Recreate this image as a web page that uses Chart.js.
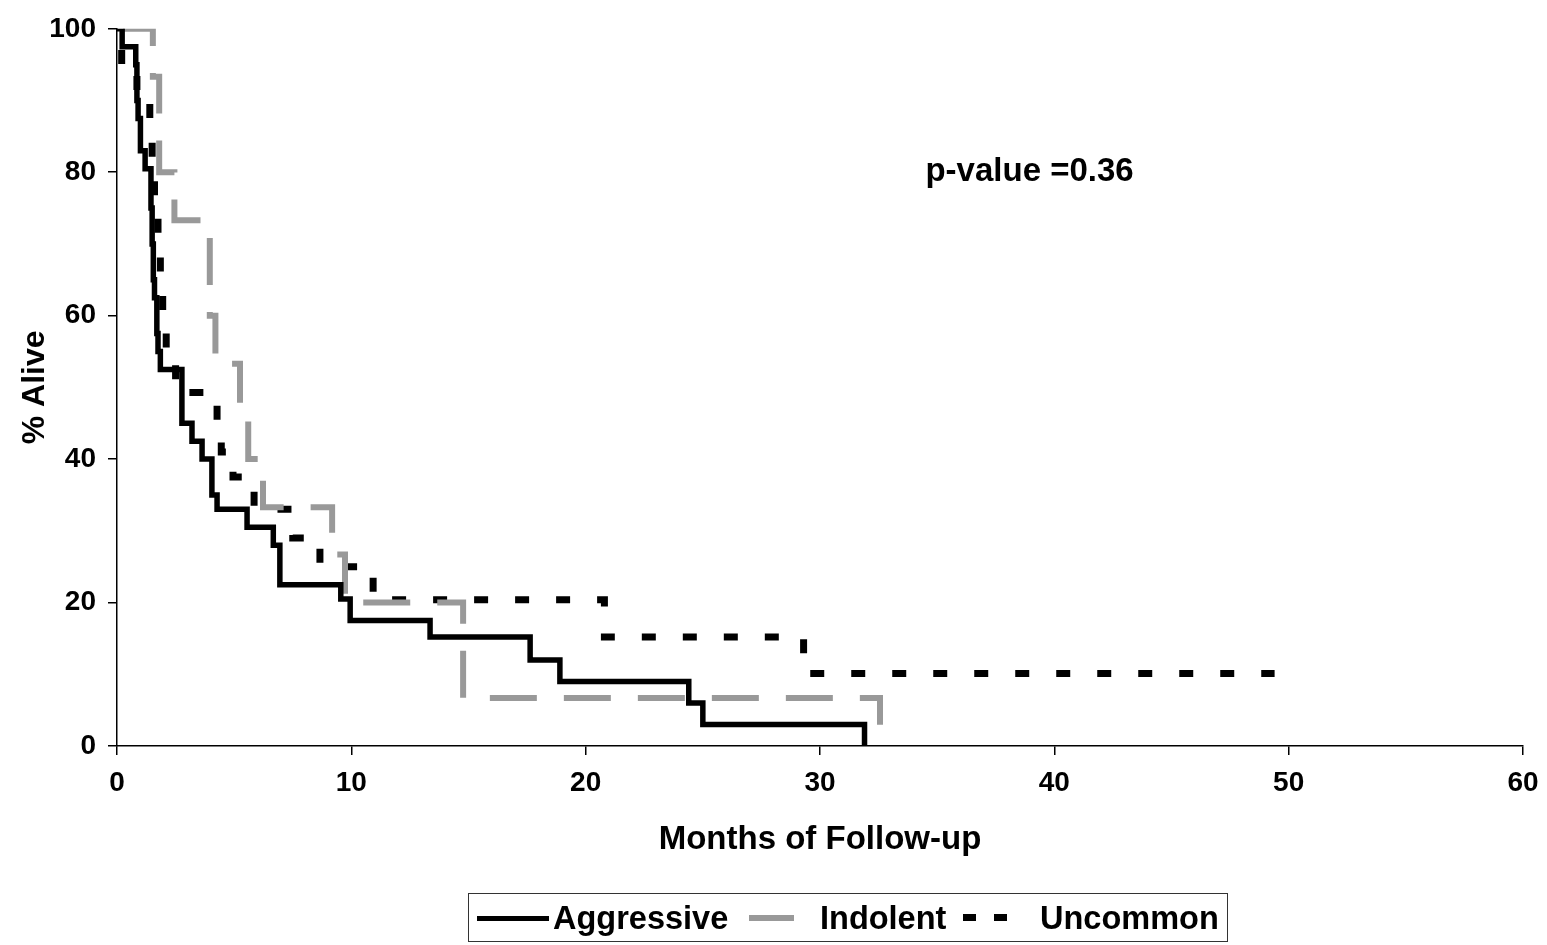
<!DOCTYPE html>
<html>
<head>
<meta charset="utf-8">
<script src="https://cdn.jsdelivr.net/npm/chart.js@4.4.1/dist/chart.umd.min.js"></script>
<style>
  html, body { margin: 0; padding: 0; background: #fff; }
  #wrap { position: relative; width: 1547px; height: 945px; }
  #chart { position: absolute; left: 0; top: 0; }
  .legend {
    position: absolute; left: 468px; top: 893px; width: 758px; height: 47px;
    border: 1.5px solid #333; box-sizing: content-box;
    font: bold 32.5px Arial, 'Liberation Sans', sans-serif; color: #000;
  }
  .legend span { position: absolute; top: 50%; transform: translateY(-50%); white-space: nowrap; }
  .legend i { position: absolute; display: block; }
</style>
</head>
<body>
<div id="wrap">
  <canvas id="chart" width="1547" height="945"></canvas>
  <div class="legend">
    <i style="left:8px; top:22px; width:72px; height:5px; background:#000"></i>
    <span style="left:84px">Aggressive</span>
    <i style="left:280px; top:21px; width:45px; height:6px; background:#999"></i>
    <span style="left:351px">Indolent</span>
    <i style="left:494px; top:20px; width:13px; height:7px; background:#000"></i>
    <i style="left:525px; top:20px; width:13px; height:7px; background:#000"></i>
    <span style="left:571px">Uncommon</span>
  </div>
</div>
<script>
'use strict';

// Kaplan-Meier steps (months, % alive after the drop)
const aggressiveMonths = [0, 0.22, 0.8, 0.85, 0.9, 1.0, 1.2, 1.45, 1.5, 1.55, 1.6, 1.7, 1.75, 1.85, 2.77, 3.2, 3.63, 4.05, 4.27, 5.55, 6.67, 6.95, 9.55, 9.95, 13.36, 17.63, 18.9, 24.4, 25.0, 31.9];
const aggressiveAlive  = [100, 97.5, 95, 90, 87.5, 83, 80.5, 75, 70, 65, 62.5, 57.5, 55, 52.5, 45, 42.5, 40, 35, 33, 30.5, 28, 22.5, 20.5, 17.5, 15.2, 12, 9, 6, 3, 0];

const indolentMonths = [0, 1.53, 1.8, 2.45, 3.96, 4.2, 5.25, 5.6, 6.23, 9.18, 9.73, 14.77, 32.56];
const indolentAlive  = [100, 93.3, 80, 73.3, 60, 53.3, 46.7, 40, 33.3, 26.7, 20, 6.7, 0];

const uncommonMonths = [0, 0.2, 0.85, 1.4, 1.5, 1.6, 1.75, 1.85, 1.95, 2.1, 2.5, 4.27, 4.45, 4.95, 5.85, 7.5, 8.66, 10.93, 20.8, 29.3, 49.4];
const uncommonAlive  = [100, 95, 90, 85, 80, 75, 70, 65, 60, 55, 49.3, 45, 41, 37.5, 33, 29, 25, 20.4, 15.2, 10.1, 10.1];

const xTicks = [0, 10, 20, 30, 40, 50, 60];
const yTicks = [0, 20, 40, 60, 80, 100];

const pValueText = 'p-value =0.36';
const pValueAt = { x: 34.5, y: 80 };

const fontFamily = "Arial, 'Liberation Sans', sans-serif";

function toPoints(xs, ys) {
  return xs.map((x, i) => ({ x, y: ys[i] }));
}

// p-value note, placed in data coordinates
const pValuePlugin = {
  id: 'pValue',
  afterDatasetsDraw(chart) {
    const { ctx, scales } = chart;
    ctx.save();
    ctx.font = 'bold 33px ' + fontFamily;
    ctx.fillStyle = '#000';
    ctx.textAlign = 'left';
    ctx.textBaseline = 'middle';
    ctx.fillText(pValueText, scales.x.getPixelForValue(pValueAt.x), scales.y.getPixelForValue(pValueAt.y));
    ctx.restore();
  }
};

new Chart(document.getElementById('chart').getContext('2d'), {
  type: 'line',
  data: {
    datasets: [
      {
        label: 'Aggressive',
        data: toPoints(aggressiveMonths, aggressiveAlive),
        borderColor: '#000',
        borderWidth: 5.5,
        stepped: 'before'
      },
      {
        label: 'Indolent',
        data: toPoints(indolentMonths, indolentAlive),
        borderColor: '#999',
        borderWidth: 6,
        borderDash: [47, 27],
        borderDashOffset: 68,
        stepped: 'before'
      },
      {
        label: 'Uncommon',
        data: toPoints(uncommonMonths, uncommonAlive),
        borderColor: '#000',
        borderWidth: 7,
        borderDash: [14, 27],
        borderDashOffset: 15,
        stepped: 'before'
      }
    ]
  },
  options: {
    responsive: false,
    animation: false,
    layout: { padding: { top: 24, right: 24, left: 0, bottom: 0 } },
    elements: {
      point: { radius: 0, hoverRadius: 0 },
      line: { borderCapStyle: 'butt', borderJoinStyle: 'miter', fill: false }
    },
    plugins: {
      legend: { display: false },
      tooltip: { enabled: false }
    },
    scales: {
      x: {
        type: 'linear',
        min: 0,
        max: 60,
        afterBuildTicks: s => { s.ticks = xTicks.map(v => ({ value: v })); },
        afterFit: s => { s.height = 199; s.paddingRight = 0; },
        grid: { drawOnChartArea: false, drawTicks: true, tickLength: 9, color: '#000', lineWidth: 1.5 },
        border: { display: true, color: '#000', width: 1.5 },
        ticks: { color: '#000', padding: 11, maxRotation: 0, font: { family: fontFamily, size: 28, weight: 'bold' } },
        title: {
          display: true,
          text: 'Months of Follow-up',
          color: '#000',
          padding: { top: 0, bottom: 85 },
          font: { family: fontFamily, size: 33, weight: 'bold' }
        }
      },
      y: {
        min: 0,
        max: 100,
        afterBuildTicks: s => { s.ticks = yTicks.map(v => ({ value: v })); },
        afterFit: s => { s.width = 117; },
        grid: { drawOnChartArea: false, drawTicks: true, tickLength: 9, color: '#000', lineWidth: 1.5 },
        border: { display: true, color: '#000', width: 1.5 },
        ticks: { color: '#000', padding: 12, font: { family: fontFamily, size: 28, weight: 'bold' } },
        title: {
          display: true,
          text: '% Alive',
          color: '#000',
          padding: { top: 16, bottom: 0 },
          font: { family: fontFamily, size: 32, weight: 'bold' }
        }
      }
    }
  },
  plugins: [pValuePlugin]
});
</script>
</body>
</html>
